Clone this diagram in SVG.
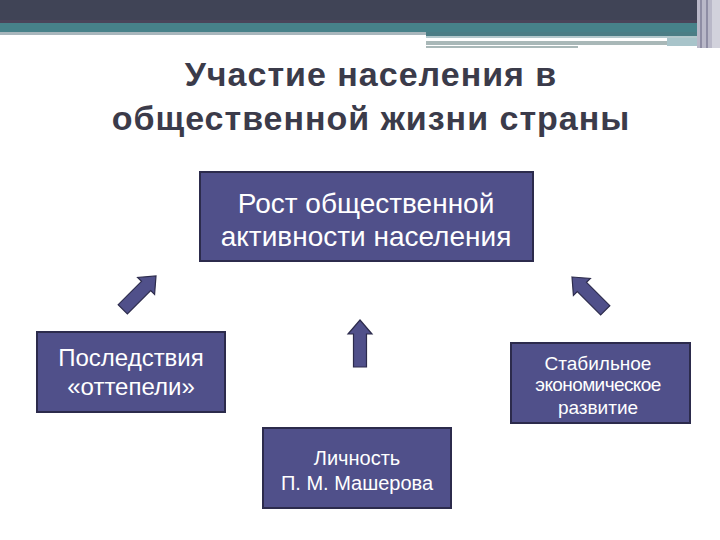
<svg xmlns="http://www.w3.org/2000/svg" width="720" height="540" viewBox="0 0 720 540">
<defs>
<style>
.box{fill:#50508a;stroke:#2c2b4c;stroke-width:2}
.arrow{fill:#50508a;stroke:#2c2b4c;stroke-width:1.2;stroke-linejoin:miter}
.t{font-family:"Liberation Sans",Arial,sans-serif;fill:#ffffff;text-anchor:middle}
.title{font-family:"Liberation Sans",Arial,sans-serif;font-weight:bold;fill:#3b3b4a;text-anchor:middle;font-size:34px;letter-spacing:1px}
</style>
<path id="arr" d="M0,0 L12,14 L6.5,14 L6.5,47 L-6.5,47 L-6.5,14 L-12,14 Z"/>
</defs>
<rect width="720" height="540" fill="#ffffff"/>
<g id="header">
<rect x="0" y="0" width="720" height="23" fill="#404456"/>
<rect x="0" y="20" width="697" height="3" fill="#4a4459"/>
<rect x="0" y="23" width="697" height="9" fill="#478189"/>
<rect x="0" y="32" width="426" height="3" fill="#a8b6bc"/>
<rect x="426" y="32" width="271" height="4" fill="#4b7d85"/>
<rect x="426" y="36" width="271" height="2" fill="#b3c8cc"/>
<rect x="426" y="41" width="241" height="4" fill="#a9b8b8"/>
<rect x="667" y="38" width="30" height="8" fill="#a8c4ca"/>
<rect x="426" y="46" width="152" height="2" fill="#a9b8b8"/>
<rect x="697" y="0" width="15" height="48" fill="#b9b8c8"/>
<rect x="700" y="0" width="2" height="48" fill="#8e8da4"/>
<rect x="706" y="0" width="2" height="48" fill="#8e8da4"/>
<rect x="712" y="0" width="8" height="48" fill="#d2d2dc"/>
</g>
<g id="title">
<text class="title" x="371" y="86">Участие населения в</text>
<text class="title" x="371" y="130">общественной жизни страны</text>
</g>
<g id="connectors">
<use href="#arr" class="arrow" transform="translate(156,276) rotate(45)"/>
<use href="#arr" class="arrow" transform="translate(572,277) rotate(-45)"/>
<use href="#arr" class="arrow" transform="translate(360,320)"/>
</g>
<g id="node-growth">
<rect class="box" x="200" y="172" width="333" height="89"/>
<text class="t" x="366" y="213" font-size="28">Рост общественной</text>
<text class="t" x="366" y="246" font-size="28">активности населения</text>
</g>
<g id="node-thaw">
<rect class="box" x="37" y="332" width="188" height="80"/>
<text class="t" x="131" y="366" font-size="24">Последствия</text>
<text class="t" x="131" y="395" font-size="24">«оттепели»</text>
</g>
<g id="node-economy">
<rect class="box" x="511" y="343" width="179" height="80"/>
<text class="t" x="598" y="370" font-size="19">Стабильное</text>
<text class="t" x="598" y="391" font-size="19" letter-spacing="-0.6">экономическое</text>
<text class="t" x="598" y="414" font-size="19">развитие</text>
</g>
<g id="node-masherov">
<rect class="box" x="263" y="428" width="188" height="80"/>
<text class="t" x="357" y="465" font-size="20">Личность</text>
<text class="t" x="357" y="490" font-size="20">П. М. Машерова</text>
</g>
</svg>
